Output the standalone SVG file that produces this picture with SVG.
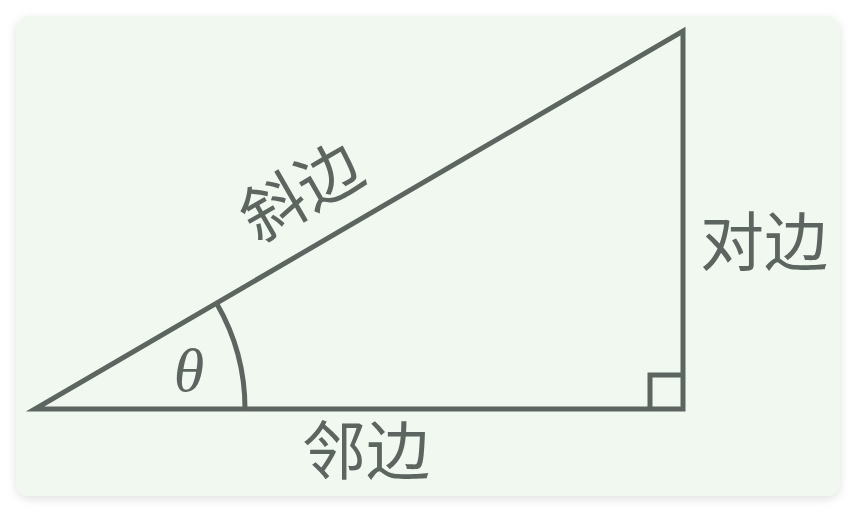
<svg xmlns="http://www.w3.org/2000/svg" width="856" height="512" viewBox="0 0 856 512">
<defs>
<filter id="sh" x="-5%" y="-5%" width="110%" height="115%">
<feDropShadow dx="0" dy="3" stdDeviation="5" flood-color="#000" flood-opacity="0.12"/>
</filter>
<style>
.ln{fill:none;stroke:#5d6561;stroke-width:5;stroke-linejoin:miter}
.cj{font-family:"Liberation Serif","Noto Sans CJK SC",serif;font-size:64px;fill:#5d6561;text-anchor:middle;dominant-baseline:central}
.th{font-family:"Liberation Serif",serif;font-style:italic;font-size:62px;fill:#5d6561;text-anchor:middle}
</style>
</defs>
<rect x="16" y="16" width="824" height="480" rx="14" fill="#f1f8f0" filter="url(#sh)"/>
<g id="connectors">
<path id="triangle" class="ln" d="M35,409 L683,409 L683,31 Z"/>
<path id="right-angle" class="ln" d="M683,375 L650,375 L650,409"/>
<path id="angle-arc" class="ln" d="M217,304 A210,210 0 0 1 245,409"/>
</g>
<g id="label-hyp"><text class="cj" x="302" y="193" transform="rotate(-30 302 193)">斜边</text></g>
<g id="label-opp"><text class="cj" x="764" y="243">对边</text></g>
<g id="label-adj"><text class="cj" x="366" y="452">邻边</text></g>
<g id="label-theta"><text class="th" x="189" y="391">θ</text></g>
</svg>
